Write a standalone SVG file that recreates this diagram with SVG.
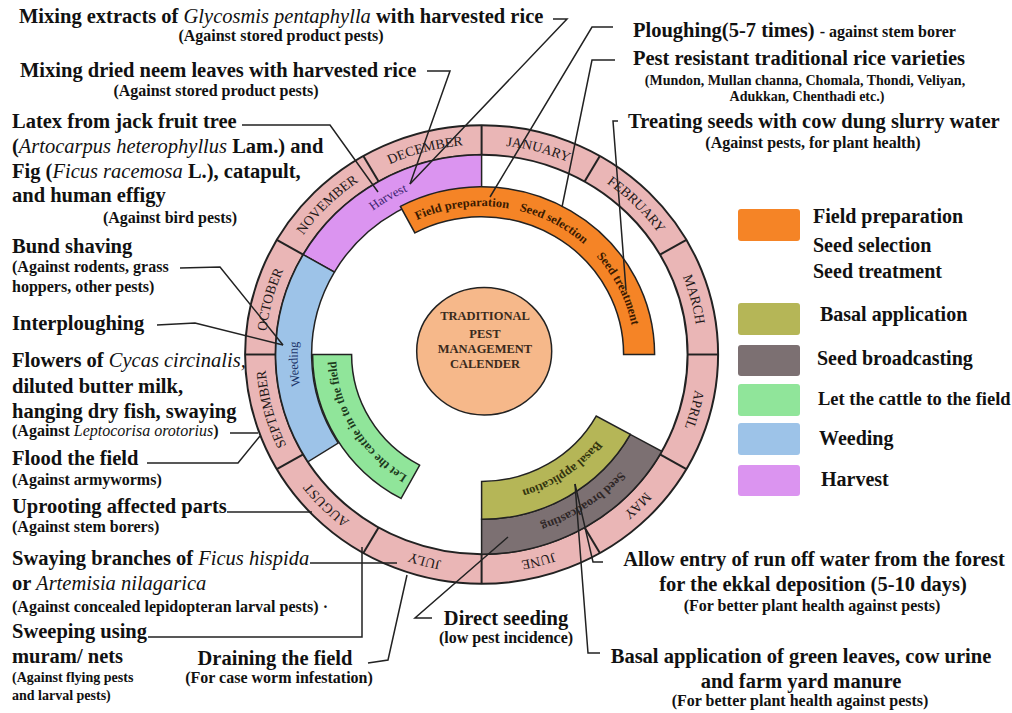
<svg xmlns="http://www.w3.org/2000/svg" width="1012" height="713" viewBox="0 0 1012 713">
<style>
text{font-family:'Liberation Serif','Times New Roman',serif;fill:#111}
.t{font-size:20.5px;font-weight:bold}
.s{font-size:16px;font-weight:bold}
.xs{font-size:14px;font-weight:bold}
.i{font-style:italic;font-weight:normal}
.lg{font-size:20px;font-weight:bold}
.mon{font-size:14px;fill:#221818}
.bl{font-size:12.5px;font-weight:bold}
.ctr{font-size:12.5px;font-weight:bold;fill:#3a2a1c}
.band{stroke:#222;stroke-width:1.5}
.cn{fill:none;stroke:#222;stroke-width:1.5}
</style>
<defs>
<path id="m216" d="M0,-216.5 A216.5,216.5 0 1 1 0,216.5 A216.5,216.5 0 1 1 0,-216.5"/>
<path id="b184" d="M0,184 A184,184 0 1 1 0,-184 A184,184 0 1 1 0,184"/>
<path id="b153" d="M0,153 A153,153 0 1 1 0,-153 A153,153 0 1 1 0,153"/>
<path id="b145" d="M0,145.5 A145.5,145.5 0 1 1 0,-145.5 A145.5,145.5 0 1 1 0,145.5"/>
</defs>
<rect width="1012" height="713" fill="#fff"/>
<g id="wheel" transform="translate(481.6,354.5) scale(1,0.9696)">
  <g id="month-ring">
    <path d="M0,-236.5 A236.5,236.5 0 1 1 0,236.5 A236.5,236.5 0 1 1 0,-236.5 Z M0,-206 A206,206 0 1 0 0,206 A206,206 0 1 0 0,-206 Z" fill="#EAB6B6" stroke="#222" stroke-width="2"/>
    <g stroke="#222" stroke-width="2">
      <line x1="0" y1="-206" x2="0" y2="-236.5"/>
      <line x1="103" y1="-178.4" x2="118.25" y2="-204.8"/>
      <line x1="178.4" y1="-103" x2="204.8" y2="-118.25"/>
      <line x1="206" y1="0" x2="236.5" y2="0"/>
      <line x1="178.4" y1="103" x2="204.8" y2="118.25"/>
      <line x1="103" y1="178.4" x2="118.25" y2="204.8"/>
      <line x1="0" y1="206" x2="0" y2="236.5"/>
      <line x1="-103" y1="178.4" x2="-118.25" y2="204.8"/>
      <line x1="-178.4" y1="103" x2="-204.8" y2="118.25"/>
      <line x1="-206" y1="0" x2="-236.5" y2="0"/>
      <line x1="-178.4" y1="-103" x2="-204.8" y2="-118.25"/>
      <line x1="-103" y1="-178.4" x2="-118.25" y2="-204.8"/>
    </g>
    <text class="mon" text-anchor="middle"><textPath href="#m216" startOffset="4.167%">JANUARY</textPath></text>
    <text class="mon" text-anchor="middle"><textPath href="#m216" startOffset="12.5%">FEBRUARY</textPath></text>
    <text class="mon" text-anchor="middle"><textPath href="#m216" startOffset="20.833%">MARCH</textPath></text>
    <text class="mon" text-anchor="middle"><textPath href="#m216" startOffset="29.167%">APRIL</textPath></text>
    <text class="mon" text-anchor="middle"><textPath href="#m216" startOffset="37.5%">MAY</textPath></text>
    <text class="mon" text-anchor="middle"><textPath href="#m216" startOffset="45.833%">JUNE</textPath></text>
    <text class="mon" text-anchor="middle"><textPath href="#m216" startOffset="54.167%">JULY</textPath></text>
    <text class="mon" text-anchor="middle"><textPath href="#m216" startOffset="62.5%">AUGUST</textPath></text>
    <text class="mon" text-anchor="middle"><textPath href="#m216" startOffset="70.833%">SEPTEMBER</textPath></text>
    <text class="mon" text-anchor="middle"><textPath href="#m216" startOffset="79.167%">OCTOBER</textPath></text>
    <text class="mon" text-anchor="middle"><textPath href="#m216" startOffset="87.5%">NOVEMBER</textPath></text>
    <text class="mon" text-anchor="middle"><textPath href="#m216" startOffset="95.833%">DECEMBER</textPath></text>
  </g>
  <g id="harvest">
    <path class="band" fill="#DB94F0" d="M-178.4,-103 A206,206 0 0 1 0,-206 L0,-170 A170,170 0 0 0 -147.2,-85 Z"/>
    <text style="font-size:13px;fill:#3b2470" text-anchor="middle"><textPath href="#b184" startOffset="41.67%">Harvest</textPath></text>
  </g>
  <g id="weeding">
    <path class="band" fill="#9DC3E8" d="M-173.7,110.7 A206,206 0 0 1 -178.4,-103 L-147.2,-85 A170,170 0 0 0 -143.4,91.3 Z"/>
    <text style="font-size:13px;fill:#1c3468" text-anchor="middle"><textPath href="#b184" startOffset="24.17%">Weeding</textPath></text>
  </g>
  <g id="field-preparation">
    <path class="band" fill="#F58426" d="M-81.2,-152.7 A173,173 0 0 1 173,0 L142,0 A142,142 0 0 0 -66.7,-125.4 Z"/>
    <text class="bl" style="fill:#3a1a00" text-anchor="middle"><textPath href="#b153" startOffset="47.94%">Field preparation</textPath></text>
    <text class="bl" style="fill:#3a1a00" text-anchor="middle"><textPath href="#b153" startOffset="57.8%">Seed selection</textPath></text>
    <text class="bl" style="fill:#3a1a00" text-anchor="middle"><textPath href="#b153" startOffset="67.67%">Seed treatment</textPath></text>
  </g>
  <g id="cattle">
    <path class="band" fill="#90E59A" d="M-80.6,148.5 A169,169 0 0 1 -169,0 L-130,0 A130,130 0 0 0 -62,114.2 Z"/>
    <text class="bl" style="fill:#1d3a1d" text-anchor="middle"><textPath href="#b145" startOffset="16.36%">Let the cattle in to the field</textPath></text>
  </g>
  <g id="seed-broadcasting">
    <path class="band" fill="#7C7072" d="M180.2,99.9 A206,206 0 0 1 0,206 L0,170 A170,170 0 0 0 148.7,82.4 Z"/>
    <text class="bl" style="fill:#2e2626" text-anchor="middle"><textPath href="#b184" startOffset="90.6%">Seed broadcasting</textPath></text>
  </g>
  <g id="basal-application">
    <path class="band" fill="#B5B657" d="M148.7,82.4 A170,170 0 0 1 0,170 L0,131 A131,131 0 0 0 114.6,63.5 Z"/>
    <text class="bl" style="fill:#33340e" text-anchor="middle"><textPath href="#b145" startOffset="90.5%">Basal application</textPath></text>
  </g>
</g>
<g id="center">
  <ellipse cx="484.2" cy="351.2" rx="67.5" ry="63.8" fill="#F6B88A" stroke="#222" stroke-width="1.5"/>
  <text class="ctr" text-anchor="middle" x="485" y="320">TRADITIONAL</text>
  <text class="ctr" text-anchor="middle" x="485" y="338">PEST</text>
  <text class="ctr" text-anchor="middle" x="485" y="353">MANAGEMENT</text>
  <text class="ctr" text-anchor="middle" x="485" y="368">CALENDER</text>
</g>
<g id="connectors">
  <polyline class="cn" points="553,19 567,19 410,184"/>
  <polyline class="cn" points="427,71 450,71 410,184"/>
  <polyline class="cn" points="242,125 330,125 378,192"/>
  <polyline class="cn" points="613,27 592,27 490,197"/>
  <polyline class="cn" points="615,60 592,60 562,207"/>
  <polyline class="cn" points="618,121 613,121 626,290"/>
  <polyline class="cn" points="180,268 220,267 283,345"/>
  <polyline class="cn" points="157,325 195,323 283,345"/>
  <polyline class="cn" points="230,433 258,433"/>
  <polyline class="cn" points="147,463 238,463 260,436"/>
  <polyline class="cn" points="227,512 312,512"/>
  <polyline class="cn" points="310,563 397,563"/>
  <polyline class="cn" points="148,637 362,637 362,547"/>
  <polyline class="cn" points="368,663 388,660 407,575"/>
  <polyline class="cn" points="432,618 415,618 508,537"/>
  <polyline class="cn" points="575,484 588,653 600,653"/>
  <polyline class="cn" points="575,484 593,562 603,562"/>
</g>
<g id="n-glycosmis">
  <text class="t" x="19" y="23">Mixing extracts of <tspan class="i">Glycosmis pentaphylla</tspan> with harvested rice</text>
  <text class="s" x="281" y="41" text-anchor="middle">(Against stored product pests)</text>
</g>
<g id="n-neem">
  <text class="t" x="20" y="77">Mixing dried neem leaves with harvested rice</text>
  <text class="s" x="216" y="96" text-anchor="middle">(Against stored product pests)</text>
</g>
<g id="n-latex">
  <text class="t" x="12" y="128">Latex from jack fruit tree</text>
  <text class="t" x="12" y="153">(<tspan class="i">Artocarpus heterophyllus</tspan> Lam.) and</text>
  <text class="t" x="12" y="178">Fig (<tspan class="i">Ficus racemosa</tspan> L.), catapult,</text>
  <text class="t" x="12" y="202">and human effigy</text>
  <text class="s" x="170" y="223" text-anchor="middle">(Against bird pests)</text>
</g>
<g id="n-bund">
  <text class="t" x="12" y="253">Bund shaving</text>
  <text class="s" x="12" y="272">(Against rodents, grass</text>
  <text class="s" x="12" y="292">hoppers, other pests)</text>
</g>
<g id="n-interploughing">
  <text class="t" x="12" y="330">Interploughing</text>
</g>
<g id="n-cycas">
  <text class="t" x="12" y="367">Flowers of <tspan class="i">Cycas circinalis,</tspan></text>
  <text class="t" x="12" y="393">diluted butter milk,</text>
  <text class="t" x="12" y="418">hanging dry fish, swaying</text>
  <text class="s" x="12" y="436">(Against <tspan class="i">Leptocorisa orotorius</tspan>)</text>
</g>
<g id="n-flood">
  <text class="t" x="12" y="465">Flood the field</text>
  <text class="s" x="12" y="485">(Against armyworms)</text>
</g>
<g id="n-uprooting">
  <text class="t" x="12" y="513">Uprooting affected parts</text>
  <text class="s" x="12" y="532">(Against stem borers)</text>
</g>
<g id="n-swaying">
  <text class="t" x="12" y="565">Swaying branches of <tspan class="i">Ficus hispida</tspan></text>
  <text class="t" x="12" y="590">or <tspan class="i">Artemisia nilagarica</tspan></text>
  <text class="s" x="12" y="612">(Against concealed lepidopteran larval pests) ·</text>
</g>
<g id="n-sweeping">
  <text class="t" x="12" y="638">Sweeping using</text>
  <text class="t" x="12" y="663">muram/ nets</text>
  <text class="xs" x="12" y="682">(Against flying pests</text>
  <text class="xs" x="12" y="700">and larval pests)</text>
</g>
<g id="n-draining">
  <text class="t" x="275" y="665" text-anchor="middle">Draining the field</text>
  <text class="s" x="279" y="683" text-anchor="middle">(For case worm infestation)</text>
</g>
<g id="n-direct-seeding">
  <text class="t" x="506" y="625" text-anchor="middle">Direct seeding</text>
  <text class="s" x="506" y="643" text-anchor="middle">(low pest incidence)</text>
</g>
<g id="n-runoff">
  <text class="t" x="814" y="566" text-anchor="middle">Allow entry of run off water from the forest</text>
  <text class="t" x="813" y="591" text-anchor="middle">for the ekkal deposition (5-10 days)</text>
  <text class="s" x="812" y="611" text-anchor="middle">(For better plant health against pests)</text>
</g>
<g id="n-basal">
  <text class="t" x="801" y="663" text-anchor="middle">Basal application of green leaves, cow urine</text>
  <text class="t" x="801" y="688" text-anchor="middle">and farm yard manure</text>
  <text class="s" x="800" y="706" text-anchor="middle">(For better plant health against pests)</text>
</g>
<g id="n-ploughing">
  <text class="t" x="633" y="37">Ploughing(5-7 times) <tspan class="s">- against stem borer</tspan></text>
</g>
<g id="n-varieties">
  <text class="t" x="633" y="65">Pest resistant traditional rice varieties</text>
  <text class="xs" x="805" y="85" text-anchor="middle">(Mundon, Mullan channa, Chomala, Thondi, Veliyan,</text>
  <text class="xs" x="807" y="101" text-anchor="middle">Adukkan, Chenthadi etc.)</text>
</g>
<g id="n-treating">
  <text class="t" x="628" y="128">Treating seeds with cow dung slurry water</text>
  <text class="s" x="813" y="148" text-anchor="middle">(Against pests, for plant health)</text>
</g>
<g id="legend">
  <rect x="738" y="209" width="62" height="32" rx="3" fill="#F58426"/>
  <rect x="738" y="303" width="62" height="32" rx="3" fill="#B5B657"/>
  <rect x="738" y="345" width="62" height="31" rx="3" fill="#7C7072"/>
  <rect x="738" y="384" width="62" height="32" rx="3" fill="#90E59A"/>
  <rect x="738" y="423" width="62" height="32" rx="3" fill="#9DC3E8"/>
  <rect x="738" y="465" width="62" height="31" rx="3" fill="#DB94F0"/>
  <text class="lg" x="813" y="223">Field preparation</text>
  <text class="lg" x="813" y="252">Seed selection</text>
  <text class="lg" x="813" y="278">Seed treatment</text>
  <text class="lg" x="820" y="321">Basal application</text>
  <text class="lg" x="817" y="365">Seed broadcasting</text>
  <text class="lg" x="818" y="405" style="font-size:18.5px">Let the cattle to the field</text>
  <text class="lg" x="819" y="445">Weeding</text>
  <text class="lg" x="821" y="486">Harvest</text>
</g>
</svg>
